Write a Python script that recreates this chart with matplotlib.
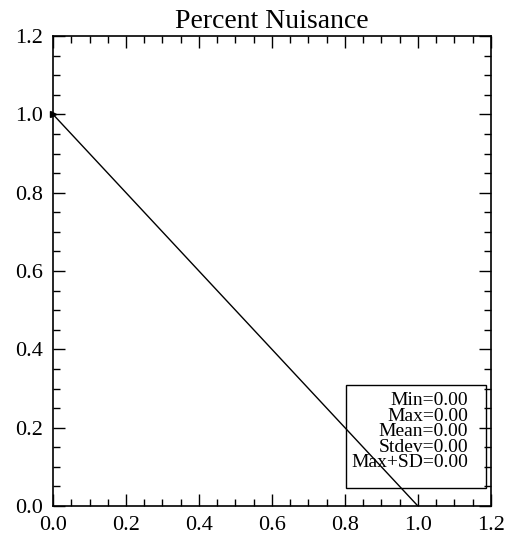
import matplotlib
matplotlib.use('Agg')
import matplotlib.pyplot as plt
from matplotlib.ticker import MultipleLocator, FormatStrFormatter

# data
x_vals = [0.0, 1.0]
y_vals = [1.0, 0.0]
stat_names = ['Min', 'Max', 'Mean', 'Stdev', 'Max+SD']
stat_vals = [0.00, 0.00, 0.00, 0.00, 0.00]

plt.rcParams['font.family'] = ['Liberation Serif', 'DejaVu Serif']

fig = plt.figure(figsize=(5.29, 5.43), dpi=100)
ax = fig.add_axes([0.1002, 0.068, 0.8279, 0.8657])

ax.plot(x_vals, y_vals, color='black', linewidth=1.0)
ax.plot(x_vals[:1], y_vals[:1], marker='>', markersize=4, color='black', clip_on=False)

ax.set_xlim(0, 1.2)
ax.set_ylim(0, 1.2)
ax.xaxis.set_major_locator(MultipleLocator(0.2))
ax.xaxis.set_minor_locator(MultipleLocator(0.05))
ax.yaxis.set_major_locator(MultipleLocator(0.2))
ax.yaxis.set_minor_locator(MultipleLocator(0.05))
ax.xaxis.set_major_formatter(FormatStrFormatter('%.1f'))
ax.yaxis.set_major_formatter(FormatStrFormatter('%.1f'))
ax.tick_params(which='both', direction='in', top=True, right=True, width=1.0, labelsize=16, colors='black')
ax.tick_params(which='major', length=8.5, pad=7)
ax.tick_params(which='minor', length=5)
for s in ax.spines.values():
    s.set_linewidth(1.2)

ax.set_title('Percent Nuisance', fontsize=20, pad=6)

# stats box
lines = [f'{n}={v:.2f}' for n, v in zip(stat_names, stat_vals)]
for i, t in enumerate(lines):
    ax.text(1.137, 0.258 - i * 0.0396, t, ha='right', va='baseline', fontsize=14)
ax.add_patch(plt.Rectangle((0.803, 0.046), 0.383, 0.263, fill=False,
                           edgecolor='black', linewidth=1.0, zorder=3))

fig.savefig('out.png', dpi=100)
